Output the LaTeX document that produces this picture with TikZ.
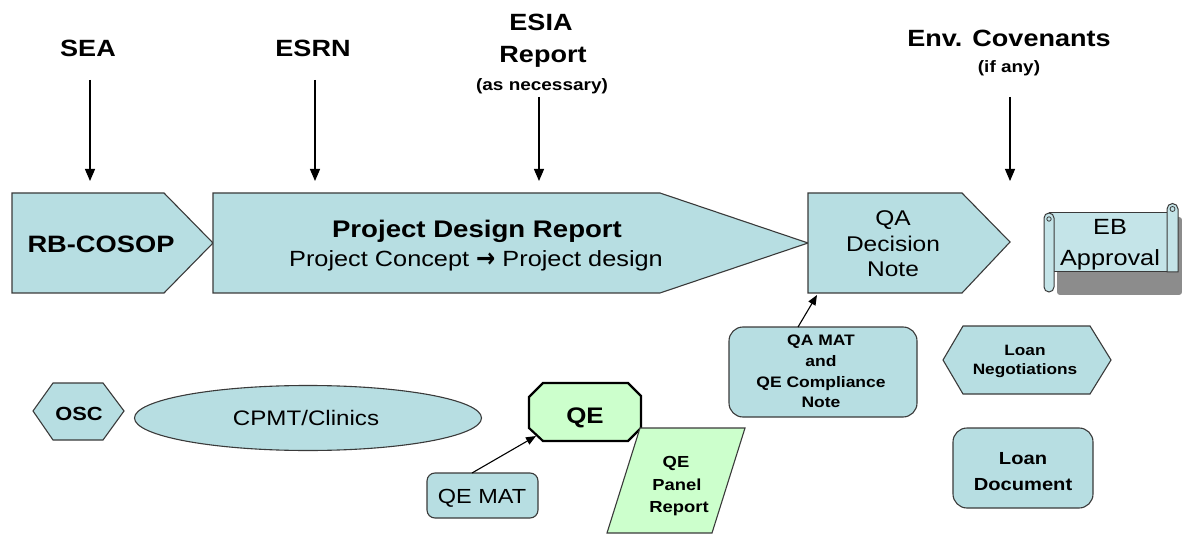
\documentclass[tikz,border=0pt]{standalone}
\usepackage{fontspec}
\setmainfont{Liberation Sans}[FakeStretch=1.15]
\usetikzlibrary{shapes.geometric,arrows.meta}
\definecolor{boxblue}{HTML}{B7DEE2}
\definecolor{boxgreen}{HTML}{CCFFCC}
\definecolor{edgec}{HTML}{3A3A3A}
\definecolor{scrollblue}{HTML}{C4E4E8}
\definecolor{shadowc}{HTML}{8C8C8C}
\newcommand{\fsz}[1]{\fontsize{#1}{#1}\selectfont}
\begin{document}
\begin{tikzpicture}[x=1pt,y=-1pt,
  every node/.style={inner sep=0pt,outer sep=0pt,text=black},
  shp/.style={draw=edgec,line width=1.1pt,fill=boxblue,line join=miter},
  gshp/.style={shp,fill=boxgreen},
  conn/.style={draw=black,line width=1.2pt,-{Triangle[width=10pt,length=12pt]}},
  sconn/.style={draw=black,line width=1.1pt,-{Triangle[width=8pt,length=10pt]}},
  toplbl/.style={font=\fsz{23.5}\bfseries,anchor=base},
  sublbl/.style={font=\fsz{16.5}\bfseries,anchor=base},
  txt/.style={anchor=base},
]
\useasboundingbox (0,0) rectangle (1182,534);

% ---------- top labels ----------
\node[toplbl] (sea) at (88,57) {SEA};
\node[toplbl] (esrn) at (313,57) {ESRN};
\node[toplbl] (esia) at (541,31) {ESIA};
\node[toplbl] (esiarep) at (543,63) {Report};
\node[sublbl] (asnec) at (542,91) {(as necessary)};
\node[toplbl] (env) at (1009,47) {Env. Covenants};
\node[sublbl] (ifany) at (1009,73) {(if any)};

\coordinate (seaA) at (90,80);   \coordinate (seaB) at (90,181);
\coordinate (esrnA) at (315,80); \coordinate (esrnB) at (315,181);
\coordinate (esiaA) at (539,97); \coordinate (esiaB) at (539,181);
\coordinate (envA) at (1010,97); \coordinate (envB) at (1010,181);
\draw[conn] (seaA) -- (seaB);
\draw[conn] (esrnA) -- (esrnB);
\draw[conn] (esiaA) -- (esiaB);
\draw[conn] (envA) -- (envB);

% ---------- main row ----------
\draw[shp] (12,193) -- (164,193) -- (213,243) -- (164,293) -- (12,293) -- cycle;
\node[txt,font=\fsz{23.7}\bfseries] (cosop) at (101,253) {RB-COSOP};

\draw[shp] (213,193) -- (660,193) -- (808,243) -- (660,293) -- (213,293) -- cycle;
\node[txt,font=\fsz{24}\bfseries] (pdr) at (477,238) {Project Design Report};
\node[txt,font=\fsz{22}] (pdrsub) at (476,267) {Project Concept {\fontspec{DejaVu Sans}[FakeStretch=0.85]\fsz{27}\bfseries\raisebox{-0.5pt}{→}} Project design};

\draw[shp] (808,193) -- (962,193) -- (1010,242) -- (962,293) -- (808,293) -- cycle;
\coordinate (qaBL) at (817,295);
\node[txt,font=\fsz{21.3}] (qa1) at (893,226) {QA};
\node[txt,font=\fsz{21.3}] (qa2) at (893,252) {Decision};
\node[txt,font=\fsz{21.3}] (qa3) at (893,277) {Note};

% ---------- EB Approval scroll ----------
\fill[shadowc,rounded corners=3pt] (1057,217) rectangle (1182,295);
\draw[draw=edgec,line width=1pt,fill=scrollblue] (1049,213) rectangle (1174,272);
\draw[draw=edgec,line width=1pt,fill=scrollblue] (1167,272) -- (1167,209)
   arc[start angle=180,end angle=360,radius=5.5] -- (1178,272) -- cycle;
\draw[draw=edgec,line width=0.8pt] (1172.5,209) circle[radius=2.5];
\draw[draw=edgec,line width=1pt,fill=scrollblue] (1044,218)
   arc[start angle=180,end angle=360,radius=5] -- (1054,287)
   arc[start angle=0,end angle=180,radius=5] -- cycle;
\draw[draw=edgec,line width=0.8pt] (1049,219) circle[radius=2.2];
\node[txt,font=\fsz{22}] (eb1) at (1110,235) {EB};
\node[txt,font=\fsz{22}] (eb2) at (1110,266) {Approval};

% ---------- bottom row ----------
\draw[shp] (33,411) -- (53,383) -- (103,383) -- (124,411) -- (103,440) -- (53,440) -- cycle;
\node[txt,font=\fsz{19}\bfseries] (osc) at (79,420) {OSC};

\node[shp,ellipse,minimum width=347pt,minimum height=65pt] (cpmtshape) at (308,418) {};
\node[txt,font=\fsz{21}] (cpmt) at (306,425) {CPMT/Clinics};

\draw[gshp,draw=black,line width=2.2pt] (529,397) -- (543,383) -- (628,383) -- (641,396) -- (641,428)
   -- (628,441) -- (543,441) -- (529,428) -- cycle;
\coordinate (qeBL) at (536,436);
\node[txt,font=\fsz{22.5}\bfseries] (qe) at (585,423) {QE};

\node[shp,rounded corners=8pt,minimum width=111pt,minimum height=45pt] (qematbox) at (482.5,495.5) {};
\coordinate (qematT) at (472,473);
\node[txt,font=\fsz{20.4}] (qemat) at (482,503) {QE MAT};
\draw[sconn] (qematT) -- (qeBL);

\draw[gshp] (640,428) -- (745,428) -- (712,533) -- (607,533) -- cycle;
\node[txt,font=\fsz{16}\bfseries] (qep1) at (676,467) {QE};
\node[txt,font=\fsz{16}\bfseries] (qep2) at (677,490) {Panel};
\node[txt,font=\fsz{16}\bfseries] (qep3) at (679,512) {Report};

\node[shp,rounded corners=14pt,minimum width=188pt,minimum height=90pt] (qamatbox) at (823,372) {};
\coordinate (qamatT) at (798,327);
\node[txt,font=\fsz{15.2}\bfseries] (qm1) at (821,345) {QA MAT};
\node[txt,font=\fsz{15.2}\bfseries] (qm2) at (821,366) {and};
\node[txt,font=\fsz{15.2}\bfseries] (qm3) at (821,387) {QE Compliance};
\node[txt,font=\fsz{15.2}\bfseries] (qm4) at (821,407) {Note};
\draw[sconn] (qamatT) -- (qaBL);

\draw[shp] (943,360) -- (963,326) -- (1090,326) -- (1111,360) -- (1090,394) -- (963,394) -- cycle;
\node[txt,font=\fsz{15}\bfseries] (ln1) at (1025,355) {Loan};
\node[txt,font=\fsz{15}\bfseries] (ln2) at (1025,374) {Negotiations};

\node[shp,rounded corners=14pt,minimum width=140pt,minimum height=80pt] (loandocbox) at (1023,468) {};
\node[txt,font=\fsz{17.5}\bfseries] (ld1) at (1023,464) {Loan};
\node[txt,font=\fsz{17.5}\bfseries] (ld2) at (1023,490) {Document};
\end{tikzpicture}
\end{document}
